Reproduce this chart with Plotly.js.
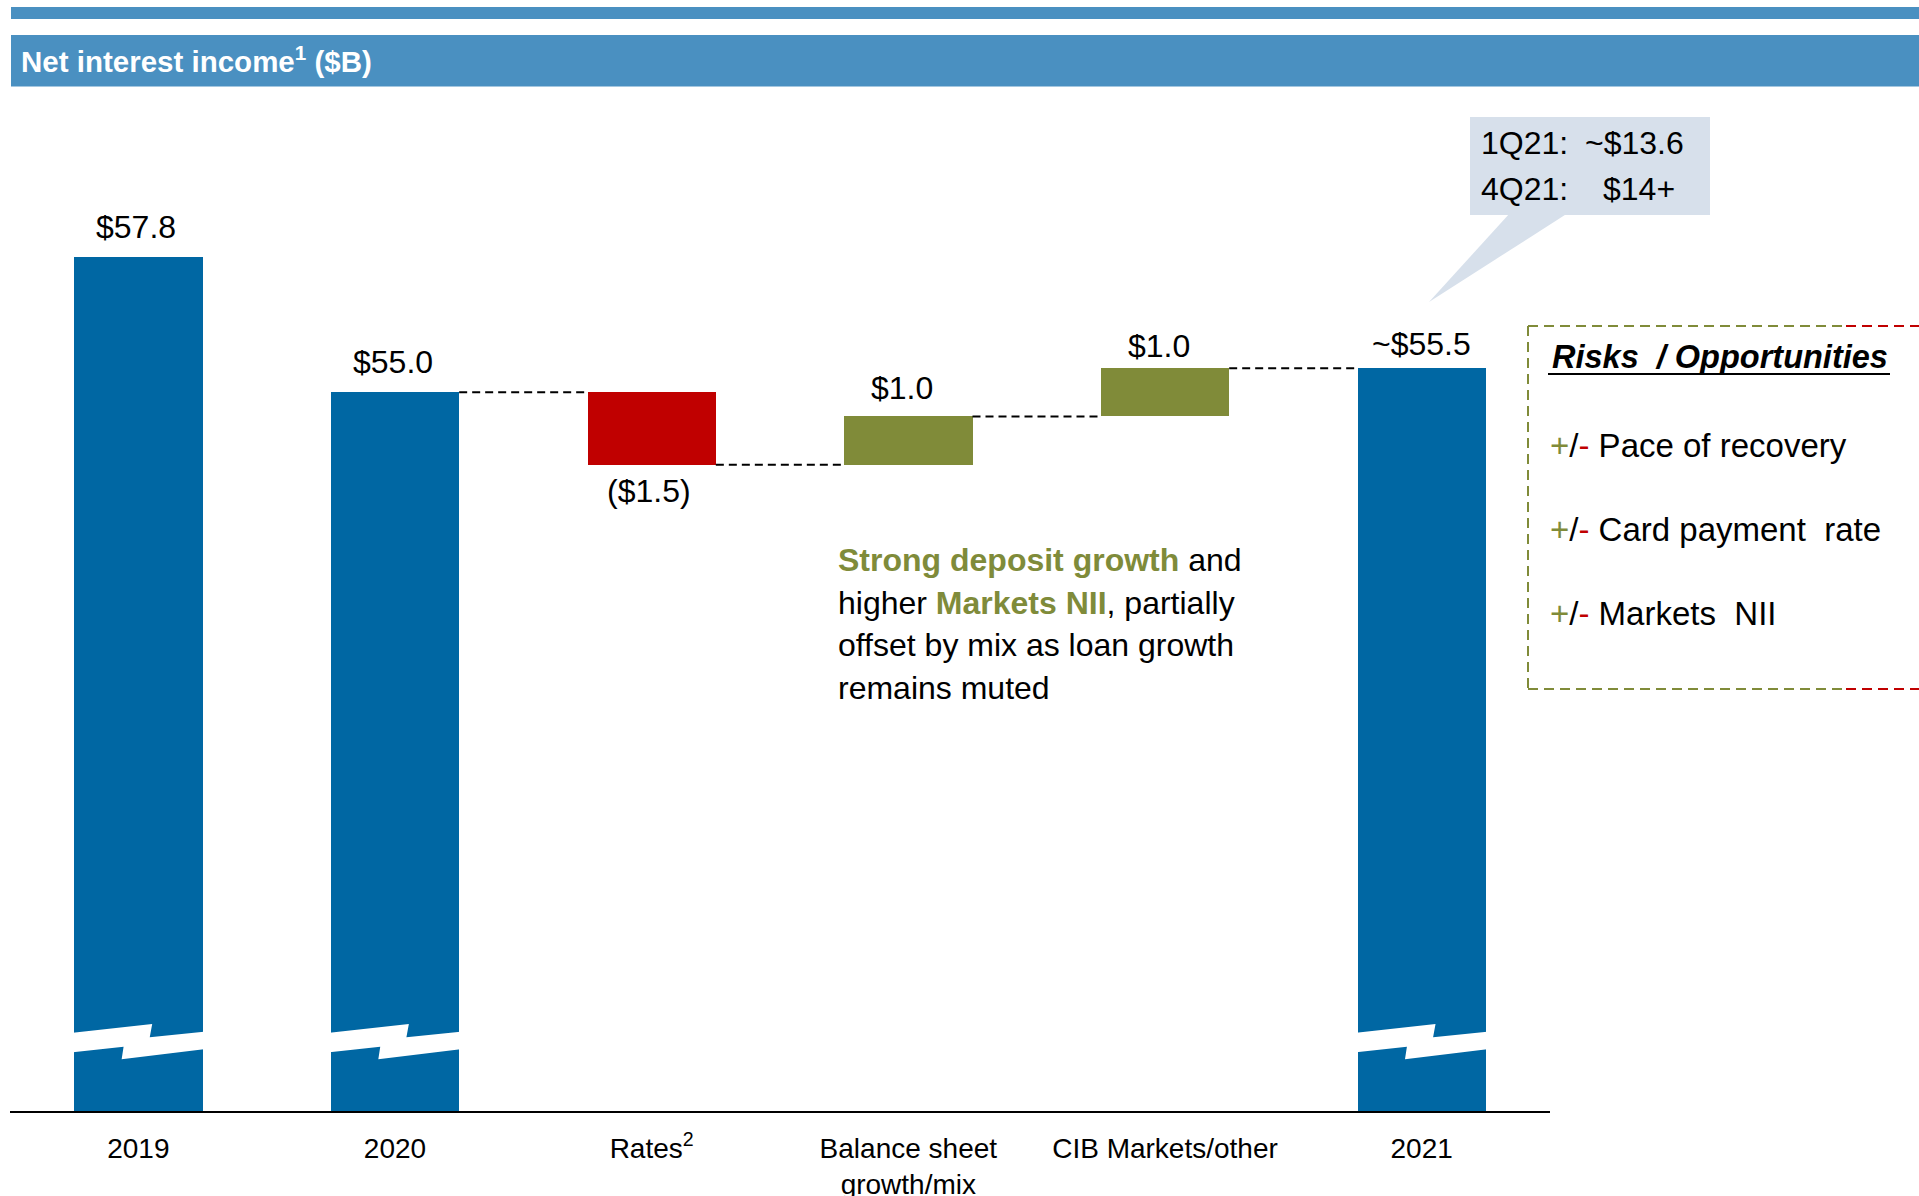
<!DOCTYPE html>
<html>
<head>
<meta charset="utf-8">
<script src="https://cdn.plot.ly/plotly-3.0.1.min.js"></script>
<style>
html,body{margin:0;padding:0;background:#fff;}
#chart{width:1919px;height:1196px;}
</style>
</head>
<body>
<div id="chart"></div>
<script>
// ---------------- DATA ----------------
const categories = ['2019', '2020', 'Rates<sup>2</sup>', 'Balance sheet<br>growth/mix', 'CIB Markets/other', '2021'];
const values = [57.8, 55.0, -1.5, 1.0, 1.0, 55.5];
const kinds = ['total', 'total', 'delta', 'delta', 'delta', 'total'];
const valueLabels = ['$57.8', '$55.0', '($1.5)', '$1.0', '$1.0', '~$55.5'];
const calloutRows = [['1Q21:', '~$13.6'], ['4Q21:', '$14+']];
const riskTitle = 'Risks\u00a0 / Opportunities';
const riskItems = ['Pace of recovery', 'Card payment\u00a0 rate', 'Markets\u00a0 NII'];
const noteLines = [
  "<b style='color:#7F8B3A'>Strong deposit growth</b> and",
  "higher <b style='color:#7F8B3A'>Markets NII</b>, partially",
  "offset by mix as loan growth",
  "remains muted"
];
const chartTitle = '<b>Net interest income<sup>1</sup> ($B)</b>';

// ---------------- STYLE / LAYOUT CONSTANTS ----------------
const W = 1919, H = 1196;
const M = {l: 10, r: 369, t: 102, b: 85};
const plotW = W - M.l - M.r, plotH = H - M.t - M.b;
const yRange = [40.12, 61.01];
const xRange = [-0.5, 5.5];
const barWidth = 0.5;
const BLUE = '#0067A3', RED = '#C00000', OLIVE = '#808B39', BANNER = '#4A90C1', CALLOUT = '#D7E0EB';
const FONT = 'Arial, "Liberation Sans", sans-serif';
const pxPerUnit = plotH / (yRange[1] - yRange[0]);
const px = x => (x - M.l) / plotW;          // page px -> paper x
const py = y => (M.t + plotH - y) / plotH;  // page px -> paper y

// ---------------- DERIVED ----------------
const idx = categories.map((_, i) => i);
const bases = [], levels = [], colors = [];
let running = 0;
values.forEach((v, i) => {
  if (kinds[i] === 'total') { bases.push(0); running = v; colors.push(BLUE); }
  else { bases.push(running); running += v; colors.push(v < 0 ? RED : OLIVE); }
  levels.push(running);
});

const trace = {
  type: 'bar', x: idx, y: values, base: bases, width: barWidth,
  marker: {color: colors, line: {width: 0}}, hoverinfo: 'skip', showlegend: false
};

const shapes = [];
const annotations = [];

// top line and banner
shapes.push({type: 'rect', xref: 'paper', yref: 'paper', x0: px(11), x1: px(1930), y0: py(19), y1: py(7), fillcolor: BANNER, line: {width: 0}});
shapes.push({type: 'rect', xref: 'paper', yref: 'paper', x0: px(11), x1: px(1930), y0: py(86.5), y1: py(35), fillcolor: BANNER, line: {width: 0}});

// connectors
for (let i = 1; i < values.length - 1; i++) {
  shapes.push({type: 'line', xref: 'x', yref: 'y', x0: i + barWidth / 2, x1: i + 1 - barWidth / 2, y0: levels[i], y1: levels[i],
    line: {color: '#000', width: 2, dash: '8px,5px'}});
}

// axis break marks on totals
const breakLevel = 41.555;
const breakPts = [[-0.01, 9.0], [0.608, 17.7], [0.589, 4.4], [1.01, 10.0], [1.01, -7.6], [0.37, -17.6], [0.385, -5.0], [-0.01, -10.6]];
idx.forEach(i => {
  if (kinds[i] !== 'total') return;
  const d = breakPts.map((p, k) => (k === 0 ? 'M' : 'L') + (i - barWidth / 2 + p[0] * barWidth).toFixed(4) + ',' + (breakLevel + p[1] / pxPerUnit).toFixed(4)).join(' ') + ' Z';
  shapes.push({type: 'path', xref: 'x', yref: 'y', path: d, fillcolor: '#fff', line: {width: 0}});
});

// value labels
const labelLift = [30, 30, 26, 28, 22, 24];
const labelDx = [-2, -2, -3, -6, -6, 0];
idx.forEach(i => {
  const neg = kinds[i] === 'delta' && values[i] < 0;
  const yv = bases[i] + values[i];
  annotations.push({x: i, y: yv, xref: 'x', yref: 'y', text: valueLabels[i], showarrow: false,
    xanchor: 'center', yanchor: 'middle', yshift: neg ? -labelLift[i] : labelLift[i], xshift: labelDx[i],
    font: {size: 32, color: '#000', family: FONT}});
});

// note text
const noteY = [560, 602.5, 645, 688];
noteLines.forEach((t, k) => {
  annotations.push({xref: 'paper', yref: 'paper', x: px(836), y: py(noteY[k]), text: t, showarrow: false,
    xanchor: 'left', yanchor: 'middle', font: {size: 32, color: '#000', family: FONT}});
});

// callout
shapes.push({type: 'rect', xref: 'paper', yref: 'paper', x0: px(1470), x1: px(1710), y0: py(215), y1: py(117), fillcolor: CALLOUT, line: {width: 0}});
shapes.push({type: 'path', xref: 'paper', yref: 'paper',
  path: `M${px(1510)},${py(213)} L${px(1568)},${py(213)} L${px(1429)},${py(302)} Z`, fillcolor: CALLOUT, line: {width: 0}});
const calloutY = [143, 189];
const calloutX = [[1479, 1583], [1479, 1601]];
calloutRows.forEach((row, k) => {
  row.forEach((t, j) => {
    annotations.push({xref: 'paper', yref: 'paper', x: px(calloutX[k][j]), y: py(calloutY[k]), text: t, showarrow: false,
      xanchor: 'left', yanchor: 'middle', font: {size: 32, color: '#000', family: FONT}});
  });
});

// risks box
const dash = '10px,6px';
shapes.push({type: 'line', xref: 'paper', yref: 'paper', x0: px(1528), x1: px(1528), y0: py(326), y1: py(689), line: {color: OLIVE, width: 2, dash: dash}});
[326, 689].forEach(yy => {
  shapes.push({type: 'line', xref: 'paper', yref: 'paper', x0: px(1528), x1: px(1846), y0: py(yy), y1: py(yy), line: {color: OLIVE, width: 2, dash: dash}});
  shapes.push({type: 'line', xref: 'paper', yref: 'paper', x0: px(1846), x1: px(1930), y0: py(yy), y1: py(yy), line: {color: RED, width: 2, dash: dash}});
});
annotations.push({xref: 'paper', yref: 'paper', x: px(1550), y: py(357), text: '<b><i>' + riskTitle + '</i></b>', showarrow: false,
  xanchor: 'left', yanchor: 'middle', font: {size: 32.5, color: '#000', family: FONT}});
shapes.push({type: 'line', xref: 'paper', yref: 'paper', x0: px(1548), x1: px(1890), y0: py(374), y1: py(374), line: {color: '#000', width: 2}});
const riskY = [445, 529, 613];
riskItems.forEach((t, k) => {
  annotations.push({xref: 'paper', yref: 'paper', x: px(1548), y: py(riskY[k]),
    text: `<span style="color:${OLIVE}">+</span>/<span style="color:${RED}">-</span> ` + t, showarrow: false,
    xanchor: 'left', yanchor: 'middle', font: {size: 33, color: '#000', family: FONT}});
});

const layout = {
  width: W, height: H,
  margin: M,
  paper_bgcolor: '#fff', plot_bgcolor: 'rgba(0,0,0,0)',
  font: {family: FONT, color: '#000'},
  title: {text: chartTitle, xref: 'container', yref: 'container', x: 21 / W, y: 1 - 62 / H,
    xanchor: 'left', yanchor: 'middle', font: {size: 29.5, color: '#fff', family: FONT}},
  xaxis: {type: 'linear', range: xRange, tickvals: idx, ticktext: categories, showgrid: false, zeroline: false,
    showline: true, linecolor: '#000', linewidth: 2, ticks: '', ticklabelstandoff: 11,
    tickfont: {size: 28, color: '#000', family: FONT}, fixedrange: true},
  yaxis: {range: yRange, visible: false, showgrid: false, zeroline: false, fixedrange: true},
  bargap: 0, showlegend: false,
  shapes: shapes, annotations: annotations
};

Plotly.newPlot('chart', [trace], layout, {displayModeBar: false, staticPlot: true});
</script>
</body>
</html>
